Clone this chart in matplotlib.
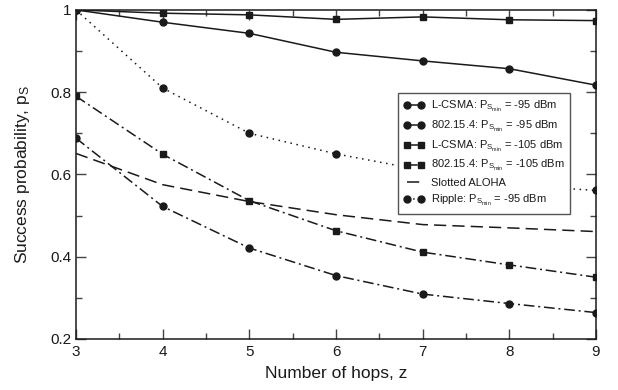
import matplotlib
matplotlib.use("Agg")
import matplotlib.pyplot as plt
from matplotlib.ticker import MultipleLocator, FormatStrFormatter

plt.rcParams['font.family'] = ['Liberation Sans', 'DejaVu Sans']
plt.rcParams['mathtext.fontset'] = 'custom'
plt.rcParams['mathtext.rm'] = 'Liberation Sans'
plt.rcParams['mathtext.it'] = 'Liberation Sans'
plt.rcParams['mathtext.bf'] = 'Liberation Sans:bold'

# hops
hops = [3, 4, 5, 6, 7, 8, 9]

# success probability per scheme
lcsma_95 = [1.0, 0.970, 0.943, 0.897, 0.876, 0.857, 0.817]
ieee_95 = [0.688, 0.522, 0.421, 0.354, 0.309, 0.286, 0.264]
lcsma_105 = [1.0, 0.992, 0.988, 0.977, 0.983, 0.976, 0.974]
ieee_105 = [0.790, 0.649, 0.536, 0.463, 0.411, 0.380, 0.350]
aloha = [0.651, 0.575, 0.534, 0.502, 0.478, 0.470, 0.461]
ripple_95 = [1.0, 0.810, 0.700, 0.650, 0.610, 0.575, 0.561]

labels = [
    r'L-CSMA: P$_{S_{min}}$ = -95 dBm',
    r'802.15.4: P$_{S_{min}}$ = -95 dBm',
    r'L-CSMA: P$_{S_{min}}$ = -105 dBm',
    r'802.15.4: P$_{S_{min}}$ = -105 dBm',
    'Slotted ALOHA',
    r'Ripple: P$_{S_{min}}$ = -95 dBm',
]

col = '#1a1a1a'
dashdot = (0, (7, 2.5, 1.3, 2.5))

fig = plt.figure(figsize=(6.18, 3.9), dpi=100)
ax = fig.add_axes([0.123, 0.131, 0.8414, 0.8436])

kw = dict(color=col, lw=1.1, ms=5)
ax.plot(hops, lcsma_95, marker='o', ls='-', label=labels[0], **kw)
ax.plot(hops, ieee_95, marker='o', ls=dashdot, label=labels[1], **kw)
ax.plot(hops, lcsma_105, marker='s', ls='-', label=labels[2], **dict(kw, ms=4.5))
ax.plot(hops, ieee_105, marker='s', ls=dashdot, label=labels[3], **dict(kw, ms=4.5))
ax.plot(hops, aloha, ls=(0, (8, 4)), label=labels[4], color=col, lw=1.1)
ax.plot(hops, ripple_95, marker='o', ls=(0, (1, 3)), label=labels[5], **kw)

ax.set_xlim(3, 9)
ax.set_ylim(0.2, 1.0)
ax.xaxis.set_major_locator(MultipleLocator(1))
ax.xaxis.set_minor_locator(MultipleLocator(0.5))
ax.yaxis.set_major_locator(MultipleLocator(0.2))
ax.yaxis.set_minor_locator(MultipleLocator(0.1))
ax.yaxis.set_major_formatter(FormatStrFormatter('%g'))
ax.tick_params(which='both', direction='in', top=True, right=True,
               color='#444444', labelsize=11, labelcolor=col)
ax.tick_params(which='major', length=7, width=1)
ax.tick_params(which='minor', length=4.5, width=1)
ax.tick_params(axis='x', pad=4.5)
ax.tick_params(axis='y', pad=3.5)
for s in ax.spines.values():
    s.set_color(col)
    s.set_linewidth(1.1)

ax.set_xlabel('Number of hops, z', fontsize=12.5, color=col, labelpad=5)
ax.set_ylabel(r'Success probability, p$_S$', fontsize=12.5, color=col, labelpad=13)

leg = ax.legend(loc='upper left', bbox_to_anchor=(0.619, 0.747),
                fontsize=8, frameon=True, fancybox=False, framealpha=1,
                edgecolor='#555555', numpoints=2, handlelength=1.8,
                handletextpad=0.6, labelspacing=0.42, borderpad=0.55,
                borderaxespad=0)
leg.get_frame().set_linewidth(1.0)
for t in leg.get_texts():
    t.set_color(col)

fig.savefig('out.png', dpi=100)
